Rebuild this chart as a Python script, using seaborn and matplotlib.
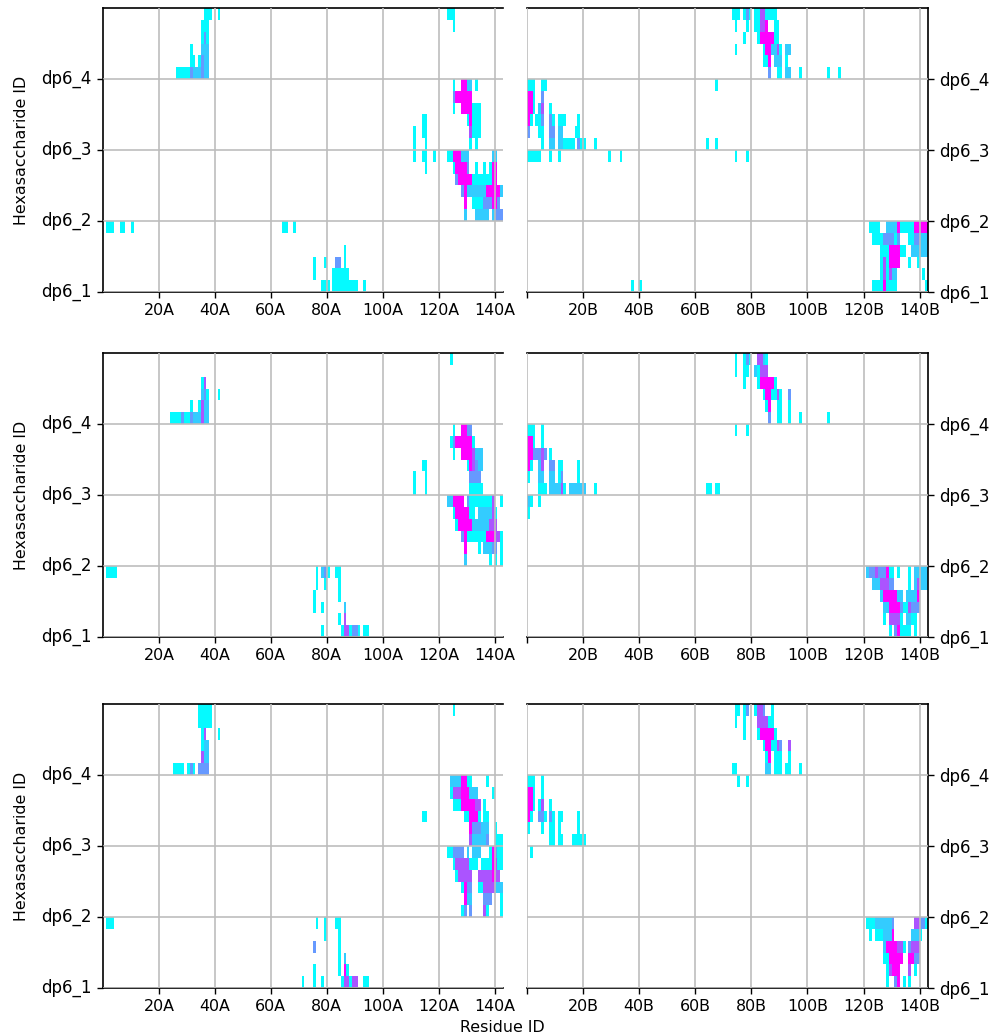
import numpy as np
import matplotlib
matplotlib.use("Agg")
import matplotlib.pyplot as plt
import seaborn as sns

C, L, B, P, M = 0.02, 0.2, 0.4, 0.67, 1.0

tick_residues_A = [20, 40, 60, 80, 100, 120, 140]
tick_residues_B = [0, 20, 40, 60, 80, 100, 120, 140]
sugar_labels = ["dp6_1", "dp6_2", "dp6_3", "dp6_4"]
sugar_rows = [24, 18, 12, 6]
n_rows, n_residues = 24, 143

# each entry: row from the top -> (first residue, end residue, contact level)
top_A = {
 0: [(36,39,C),(41,42,C),(123,126,C)], 1: [(35,38,C),(125,126,C)],
 2: [(35,36,C),(36,37,B),(37,38,C)], 3: [(31,32,C),(35,38,L)],
 4: [(31,33,C),(34,35,C),(35,36,B),(36,38,L)],
 5: [(26,31,C),(31,32,B),(32,35,L),(35,36,B),(36,38,L)],
 6: [(125,126,C),(128,130,M),(130,132,L),(133,134,C)],
 7: [(125,126,B),(126,132,M)], 8: [(125,126,C),(128,132,M),(132,135,C)],
 9: [(114,116,C),(130,131,C),(131,132,M),(132,135,C)],
 10: [(111,112,C),(114,116,C),(131,132,P),(132,135,C)],
 11: [(111,112,C),(115,116,C),(131,132,C),(133,134,C)],
 12: [(111,112,C),(114,116,C),(118,119,C),(123,125,C),(125,128,M),(128,131,L),(139,141,L)],
 13: [(115,116,C),(125,126,C),(126,130,M),(130,131,B),(133,134,C),(136,137,C),(138,139,C),(139,141,M)],
 14: [(126,127,B),(127,132,M),(132,139,C),(139,141,M)],
 15: [(128,129,B),(129,130,M),(130,137,L),(137,142,M),(142,143,L)],
 16: [(129,130,M),(132,136,C),(136,139,B),(139,141,M),(141,142,B)],
 17: [(129,130,L),(133,138,L),(139,140,L),(140,143,B)],
 18: [(1,4,C),(6,8,C),(10,11,C),(64,66,C),(68,69,C)],
 20: [(86,87,C)], 21: [(75,76,C),(79,80,C),(83,85,B),(86,87,C)],
 22: [(75,76,C),(82,88,C)], 23: [(78,81,C),(82,91,C),(93,94,C)],
}
top_B = {
 0: [(73,76,C),(77,78,C),(78,79,B),(79,80,C),(81,82,C),(82,83,C),(83,85,P),(85,89,C)],
 1: [(74,75,C),(78,79,C),(81,83,C),(83,85,P),(85,86,M),(88,90,C)],
 2: [(77,78,C),(82,83,C),(83,88,M),(88,90,C)],
 3: [(74,75,C),(84,85,C),(85,87,M),(87,89,L),(89,90,P),(90,91,C),(92,94,L)],
 4: [(84,86,C),(86,87,M),(88,91,L),(92,93,C)],
 5: [(86,87,B),(89,91,C),(92,94,L),(97,98,C),(107,108,C),(111,112,C)],
 6: [(0,3,C),(5,7,C),(67,68,C)], 7: [(0,2,M),(2,3,C),(5,6,B)],
 8: [(0,2,M),(2,3,C),(4,5,L),(5,6,P),(8,9,C)],
 9: [(0,1,M),(1,2,C),(3,5,C),(5,6,B),(8,9,B),(9,10,C),(11,14,C),(18,19,C)],
 10: [(0,1,B),(4,6,C),(8,10,B),(11,13,L),(17,19,C)],
 11: [(5,6,C),(8,10,L),(11,13,L),(13,17,C),(18,19,B),(19,21,C),(24,25,C),(64,65,C),(67,68,C)],
 12: [(0,5,C),(8,9,C),(11,12,C),(29,30,C),(33,34,C),(74,75,C),(78,79,C)],
 18: [(122,126,C),(128,132,L),(132,133,M),(133,138,C),(138,143,M)],
 19: [(123,127,C),(127,131,B),(131,132,C),(132,133,B),(136,138,C),(138,140,B),(140,143,L)],
 20: [(126,129,C),(129,133,M),(133,135,C),(137,143,L)],
 21: [(126,127,C),(127,128,P),(128,129,C),(129,133,M),(136,137,C),(139,140,C)],
 22: [(126,127,C),(127,128,P),(128,129,C),(129,130,P),(130,132,L),(141,142,C)],
 23: [(37,38,C),(40,41,C),(123,127,C),(127,128,M),(128,132,C),(142,143,C)],
}
mid_A = {
 0: [(124,125,C)], 2: [(35,36,C),(36,37,P)], 3: [(35,36,L),(36,37,B),(37,38,C),(41,42,C)],
 4: [(31,32,C),(34,35,C),(35,36,P),(36,38,L)],
 5: [(24,28,C),(28,29,B),(29,31,C),(31,32,B),(32,35,L),(35,36,P),(36,38,L)],
 6: [(125,126,C),(128,130,M),(130,132,B)],
 7: [(124,125,C),(125,126,B),(126,132,M),(132,133,C)],
 8: [(125,126,C),(128,132,M),(132,133,P),(133,136,L)],
 9: [(114,116,C),(130,131,C),(131,132,M),(132,133,P),(133,134,B),(134,136,L)],
 10: [(111,112,C),(115,116,C),(131,133,B),(133,135,B)],
 11: [(111,112,C),(115,116,C),(131,136,C)],
 12: [(123,125,L),(125,129,M),(130,131,B),(131,139,C),(139,140,P),(142,143,C)],
 13: [(125,126,C),(126,131,M),(131,133,C),(134,139,L),(139,140,P),(140,141,C)],
 14: [(126,127,C),(127,132,M),(132,138,L),(138,141,P)],
 15: [(128,129,B),(129,130,M),(130,137,C),(137,140,M),(140,142,P),(142,143,C)],
 16: [(129,130,M),(134,135,C),(136,139,L),(139,141,B),(142,143,C)],
 17: [(129,130,L),(138,139,C),(140,141,C),(142,143,C)],
 18: [(1,5,C),(76,77,C),(78,79,L),(79,80,B),(80,81,C),(83,85,C)],
 19: [(76,77,C),(79,80,C),(84,85,C)], 20: [(75,76,C),(84,85,C)],
 21: [(75,76,C),(78,79,C),(86,87,L)], 22: [(84,85,C),(86,87,P)],
 23: [(78,79,C),(85,86,C),(86,88,P),(88,89,C),(89,91,B),(91,92,C),(93,95,C)],
}
mid_B = {
 0: [(74,75,C),(77,78,C),(78,79,B),(79,80,C),(82,84,P),(84,85,L),(85,86,C)],
 1: [(74,75,C),(77,79,C),(81,82,L),(82,83,C),(83,86,P)],
 2: [(77,78,C),(82,83,C),(83,88,M),(88,89,C)],
 3: [(84,85,C),(85,87,M),(87,89,C),(89,90,P),(90,91,C),(93,94,B)],
 4: [(85,86,C),(86,87,M),(89,91,C),(93,94,C)],
 5: [(86,87,B),(89,91,C),(93,94,C),(97,98,C),(107,108,C)],
 6: [(0,3,C),(5,6,C),(74,75,C),(78,79,C)], 7: [(0,2,M),(2,3,C),(5,6,C)],
 8: [(0,2,M),(2,4,B),(4,5,B),(5,6,P),(6,7,B),(8,9,C)],
 9: [(0,1,M),(1,2,C),(4,5,L),(5,6,P),(8,10,B),(11,13,C),(18,19,C)],
 10: [(0,1,C),(4,6,L),(8,10,L),(11,12,C),(12,13,B),(18,19,C)],
 11: [(4,7,C),(8,12,L),(12,13,P),(13,14,C),(15,21,L),(24,25,C),(64,66,C),(67,69,C)],
 12: [(0,1,L),(1,2,C),(4,5,C)], 13: [(0,1,C)],
 18: [(121,122,L),(122,124,B),(124,125,P),(125,128,B),(128,129,M),(129,131,C),(132,133,C),(136,137,C),(138,143,L)],
 19: [(123,126,L),(126,129,P),(129,131,B),(136,137,C),(138,139,L),(139,140,P),(140,143,L)],
 20: [(126,127,L),(127,132,M),(132,134,L),(135,139,L),(139,140,M)],
 21: [(127,129,L),(129,133,M),(133,134,B),(134,136,C),(136,137,P),(137,140,B)],
 22: [(127,128,C),(129,133,P),(133,134,C),(135,137,L),(137,139,C)],
 23: [(129,130,C),(131,132,B),(132,133,M),(133,137,C),(138,139,C)],
}
low_A = {
 0: [(34,39,C),(125,126,C)], 1: [(34,39,C)], 2: [(35,36,C),(36,37,P),(41,42,C)],
 3: [(35,36,C),(36,38,L)], 4: [(35,36,P),(36,38,L)],
 5: [(25,29,C),(30,31,C),(31,32,B),(32,33,C),(34,35,B),(35,38,B)],
 6: [(124,128,L),(128,130,M),(130,132,C),(137,138,C)],
 7: [(124,125,C),(125,128,P),(128,131,M),(131,134,L),(139,140,C)],
 8: [(125,128,C),(128,133,M),(133,135,P),(136,137,C)],
 9: [(114,116,C),(129,131,C),(131,134,M),(134,135,C),(136,138,C)],
 10: [(131,132,M),(132,135,B),(135,138,L),(140,141,C)],
 11: [(131,132,P),(132,137,L),(137,138,B),(140,143,C)],
 12: [(123,125,C),(125,129,B),(130,131,L),(132,135,L),(138,139,C),(139,140,M),(140,141,B),(141,143,C)],
 13: [(125,126,C),(126,131,P),(131,134,C),(135,139,C),(139,140,M),(140,141,P),(141,143,C)],
 14: [(126,127,C),(127,129,P),(129,132,P),(134,139,P),(139,140,M),(140,142,P)],
 15: [(128,129,C),(129,130,M),(130,132,B),(134,136,C),(136,140,P),(140,143,L)],
 16: [(129,130,M),(130,132,L),(136,139,B),(142,143,C)],
 17: [(128,129,C),(129,130,B),(131,132,B),(136,137,P),(137,138,C),(142,143,C)],
 18: [(1,4,C),(76,77,C),(79,80,C),(83,85,C)], 19: [(79,80,C),(84,85,C)],
 20: [(75,76,B),(84,85,C)], 21: [(84,85,C),(86,87,L)],
 22: [(75,76,C),(84,85,C),(86,87,M),(87,88,C)],
 23: [(71,72,C),(75,76,C),(78,79,C),(85,86,C),(86,88,P),(88,89,C),(89,91,P),(93,95,C)],
}
low_B = {
 0: [(74,76,C),(77,78,C),(78,79,B),(81,82,C),(82,84,P),(84,85,B),(87,88,C)],
 1: [(74,75,C),(77,78,C),(82,86,P),(86,88,C)],
 2: [(77,78,C),(82,83,C),(83,88,M),(88,89,C)],
 3: [(84,85,C),(85,87,M),(87,89,C),(89,90,P),(90,91,B),(93,94,P)],
 4: [(85,86,C),(86,87,M),(88,91,C),(93,94,C)],
 5: [(73,75,C),(85,87,L),(88,91,C),(92,94,C),(97,98,C)],
 6: [(0,3,C),(5,6,C),(75,76,C),(78,79,C)], 7: [(0,2,M),(2,3,C),(5,6,C)],
 8: [(0,2,M),(2,3,C),(4,5,C),(5,6,P),(8,9,C)],
 9: [(0,1,M),(1,2,C),(4,6,B),(6,7,C),(8,9,B),(9,10,C),(11,13,C),(18,19,C)],
 10: [(0,1,C),(5,6,C),(8,10,C),(11,12,C),(18,19,C)],
 11: [(8,10,C),(11,13,C),(16,21,C)], 12: [(1,2,C)],
 18: [(121,124,C),(124,130,L),(130,131,B),(138,140,P),(140,142,B),(142,143,C)],
 19: [(122,123,C),(124,127,C),(127,130,L),(130,131,M),(137,140,L),(140,141,C)],
 20: [(127,128,L),(128,132,M),(132,134,P),(134,135,C),(136,137,B),(137,140,P)],
 21: [(127,129,C),(129,134,M),(136,138,M),(138,140,B)],
 22: [(128,129,C),(129,130,P),(130,133,M),(136,137,P),(138,139,C)],
 23: [(128,129,C),(131,132,B),(132,133,M),(134,135,C),(136,137,C)],
}
panels = [top_A, top_B, mid_A, mid_B, low_A, low_B]
chains = ["A", "B", "A", "B", "A", "B"]

W, H = 990, 1035
col_edges = [(103, 503), (527, 928)]
row_edges = [(8, 292), (353, 637), (704, 988)]

sns.set_style("white")
plt.rcParams["font.family"] = ["DejaVu Sans"]
plt.rcParams["text.color"] = "black"
plt.rcParams["axes.labelcolor"] = "black"
plt.rcParams["xtick.labelcolor"] = "black"
plt.rcParams["ytick.labelcolor"] = "black"
fig = plt.figure(figsize=(W / 100, H / 100), dpi=100)

for i, (spans, chain) in enumerate(zip(panels, chains)):
    c, r = i % 2, i // 2
    x0, x1 = col_edges[c]
    y0, y1 = row_edges[r]
    ax = fig.add_axes([x0 / W, 1 - y1 / H, (x1 - x0) / W, (y1 - y0) / H])
    grid = np.zeros((n_rows, n_residues))
    for row, items in spans.items():
        for a, b, v in items:
            grid[row, a:b] = v
    sns.heatmap(grid, mask=grid == 0, cmap="cool", vmin=0, vmax=1, cbar=False,
                ax=ax, linewidths=0)
    ax.set_xlim(0, n_residues)
    ax.set_ylim(n_rows, 0)
    ticks = tick_residues_A if c == 0 else tick_residues_B
    ax.set_xticks(ticks)
    ax.set_xticklabels(["" if t == 0 else f"{t}{chain}" for t in ticks],
                       rotation=0, fontsize=11.4)
    ax.set_yticks(sugar_rows)
    ax.set_yticklabels(sugar_labels, rotation=0, fontsize=12)
    ax.grid(True, color="#bdbdbd", linewidth=1.2)
    ax.set_axisbelow(False)
    ax.tick_params(axis="both", length=4.5, width=1.0, bottom=True, color="black",
                   left=c == 0, right=c == 1, labelleft=c == 0, labelright=c == 1)
    for name, sp in ax.spines.items():
        sp.set_visible(True)
        sp.set_color("black")
        sp.set_linewidth(1.2)
    ax.spines["right" if c == 0 else "left"].set_visible(False)
    if c == 0:
        ax.set_ylabel("Hexasaccharide ID", fontsize=11.4, labelpad=9, color="black")
    else:
        ax.set_ylabel("")

fig.text(502 / W, 1 - 1028 / H, "Residue ID", ha="center", va="center",
         fontsize=11.4, color="black")
fig.savefig("out.png", dpi=100, facecolor="white")
